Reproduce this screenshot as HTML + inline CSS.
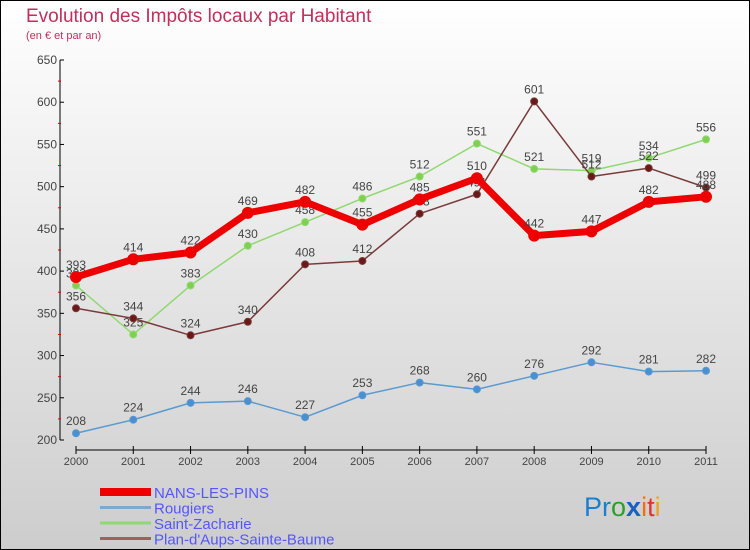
<!DOCTYPE html>
<html><head><meta charset="utf-8"><style>
body{margin:0}
#c{width:750px;height:550px;position:relative;overflow:hidden;font-family:"Liberation Sans",sans-serif}
</style></head><body>
<div id="c">
<svg id="s" width="750" height="550" xmlns="http://www.w3.org/2000/svg">
<defs><linearGradient id="bg" x1="0" y1="0" x2="0" y2="1"><stop offset="0" stop-color="#ffffff"/><stop offset="1" stop-color="#cdcdcd"/></linearGradient></defs>
<rect x="0.5" y="0.5" width="749" height="549" fill="url(#bg)" stroke="#000"/>
<text x="26" y="22" font-size="19" fill="#c0305a">Evolution des Impôts locaux par Habitant</text>
<text x="26" y="39" font-size="11" fill="#c0305a">(en € et par an)</text>
<g id="axes"></g>
<g id="series"></g>
<g id="legend"></g>
<text x="584" y="516" font-size="27"><tspan fill="#1a7fd0">Pr</tspan><tspan fill="#2aa02a">o</tspan><tspan fill="#1a60c0" font-weight="bold">x</tspan><tspan fill="#f07010">i</tspan><tspan fill="#e03030">t</tspan><tspan fill="#f0a020">i</tspan></text>
</svg></div>
<script>
const years=["2000","2001","2002","2003","2004","2005","2006","2007","2008","2009","2010","2011"];
const yTicks=[200,250,300,350,400,450,500,550,600,650];
const nans=[393,414,422,469,482,455,485,510,442,447,482,488];
const rougiers=[208,224,244,246,227,253,268,260,276,292,281,282];
const stz=[383,325,383,430,458,486,512,551,521,519,534,556];
const plan=[356,344,324,340,408,412,468,491,601,512,522,499];
const NS="http://www.w3.org/2000/svg";
function X(i){return 76+i*(706-76)/11;}
function Y(v){return 440-(v-200)*(380/450);}
function mk(t,a,p){const e=document.createElementNS(NS,t);for(const k in a)e.setAttribute(k,a[k]);p.appendChild(e);return e;}
const ax=document.getElementById('axes');
let e=mk('line',{x1:60,y1:60,x2:60,y2:440,stroke:'#000'},ax);


e=mk('line',{x1:76,y1:450,x2:706,y2:450,stroke:'#000'},ax);


yTicks.forEach((v,i)=>{
 mk('line',{x1:60,y1:Y(v),x2:64,y2:Y(v),stroke:'#000'},ax);
 if(i<yTicks.length-1)mk('line',{x1:58,y1:Y(v+25),x2:61,y2:Y(v+25),stroke:'#d00'},ax);
 const t=mk('text',{x:57,y:Y(v)+4,'font-size':12,fill:'#444','text-anchor':'end'},ax);t.textContent=v;
 
 
});
years.forEach((y,i)=>{
 mk('line',{x1:X(i),y1:446,x2:X(i),y2:454,stroke:'#000'},ax);
 const t=mk('text',{x:X(i),y:465,'font-size':11,fill:'#444','text-anchor':'middle'},ax);t.textContent=y;
 
 
});
const sg=document.getElementById('series');
function draw(d,col,w,r,fillc,name){
 const g=mk('g',{},sg);
 
 
 mk('polyline',{points:d.map((v,i)=>X(i)+','+Y(v)).join(' '),fill:'none',stroke:col,'stroke-width':w,'stroke-linejoin':'round'},g);
 d.forEach((v,i)=>{
  const c=mk('circle',{cx:X(i),cy:Y(v),r:r,fill:fillc,stroke:col,'stroke-width':1},g);
  
  
  const t=mk('text',{x:X(i),y:Y(v)-8,'font-size':12,fill:'#444','text-anchor':'middle'},g);t.textContent=v;
  
  
 });
}
draw(rougiers,'#5a9ad0',1.5,3.5,'#4a90d0','series-rougiers');
draw(stz,'#90d870',1.5,3.5,'#80d050','series-saint-zacharie');
draw(plan,'#7a3a3a',1.5,3.5,'#6a1818','series-plan-d-aups');
draw(nans,'#ee0000',7,5.5,'#ee0000','series-nans-les-pins');
const lg=document.getElementById('legend');
const leg=[["NANS-LES-PINS","#ee0000",8],["Rougiers","#7aaad0",3],["Saint-Zacharie","#90d870",3],["Plan-d'Aups-Sainte-Baume","#a06060",3]];
leg.forEach((l,i)=>{
 const y=492+i*15.5;
 const r=mk('line',{x1:100,y1:y,x2:151,y2:y,stroke:l[1],'stroke-width':l[2]},lg);
 
 
 const t=mk('text',{x:154,y:y+6,'font-size':15,fill:'#5555ff'},lg);t.textContent=l[0];
 
 
});
</script>
</body></html>
